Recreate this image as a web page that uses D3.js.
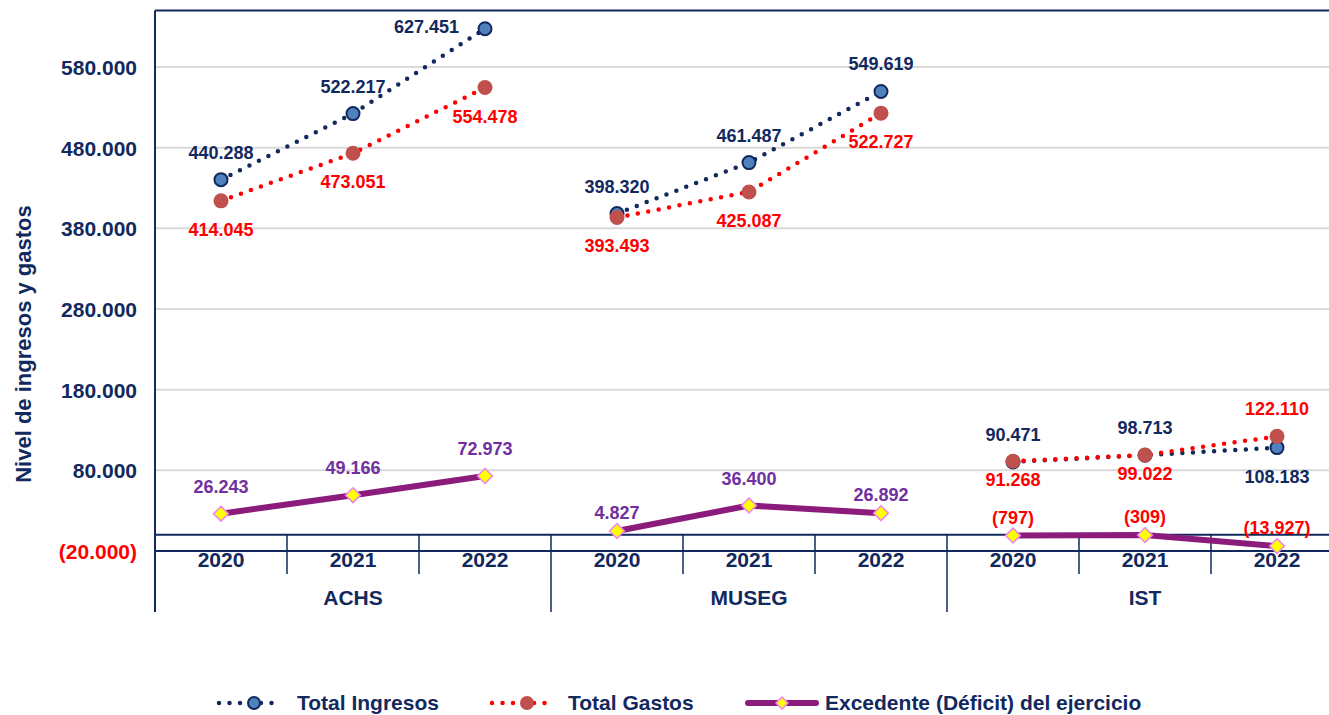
<!doctype html>
<html lang="es">
<head>
<meta charset="utf-8">
<title>Ingresos y gastos</title>
<script src="https://d3js.org/d3.v7.min.js"></script>
<style>
  body { margin: 0; background: #fff; }
  svg { display: block; font-family: "Liberation Sans", Arial, sans-serif; font-weight: bold; }
</style>
</head>
<body>
<svg id="chart" width="1329" height="715"></svg>
<script>
// data
const groups = ["ACHS", "MUSEG", "IST"];
const years = ["2020", "2021", "2022"];
const totalIngresos = [[440288, 522217, 627451], [398320, 461487, 549619], [90471, 98713, 108183]];
const totalGastos = [[414045, 473051, 554478], [393493, 425087, 522727], [91268, 99022, 122110]];
const excedente = [[26243, 49166, 72973], [4827, 36400, 26892], [-797, -309, -13927]];
const yTicks = [-20000, 80000, 180000, 280000, 380000, 480000, 580000];
// where each data label sits (t = above, tn = just above, b = below, bn = just below, l = left)
const ingresosSide = [["t", "t", "l"], ["t", "t", "t"], ["t", "t", "b"]];
const gastosSide = [["b", "b", "b"], ["b", "b", "b"], ["bn", "bn", "t"]];
const excedenteSide = [["t", "t", "t"], ["tn", "t", "tn"], ["tn", "tn", "tn"]];

const navy = "#12295e", red = "#ff0000", purple = "#8b1c7c", labPurple = "#7030a0";
const plotLeft = 155, plotRight = 1343, plotTop = 10.5, plotBottom = 551;

const svg = d3.select("#chart");
const loc = d3.formatLocale({decimal: ",", thousands: ".", grouping: [3], currency: ["", ""]});
const f0 = loc.format(",.0f");
function fmt(v) { return v < 0 ? "(" + f0(-v) + ")" : f0(v); }

const xGroup = d3.scaleBand().domain(groups).range([plotLeft, plotRight]);
const xYear = d3.scaleBand().domain(years).range([0, xGroup.bandwidth()]);
const y = d3.scaleLinear().domain([-20000, 650000]).range([plotBottom, plotTop]);
function px(gi, yi) { return xGroup(groups[gi]) + xYear(years[yi]) + xYear.bandwidth() / 2; }

// gridlines
svg.append("g").selectAll("line").data(yTicks.filter(t => t > -20000)).join("line")
  .attr("x1", plotLeft).attr("x2", plotRight).attr("y1", d => y(d)).attr("y2", d => y(d))
  .attr("stroke", "#d9d9d9").attr("stroke-width", 2);

// y axis labels
const yAxis = d3.axisLeft(y).tickValues(yTicks).tickFormat(fmt).tickSize(0).tickPadding(18);
const ya = svg.append("g").attr("transform", "translate(" + plotLeft + ",0)").call(yAxis);
ya.select(".domain").remove();
ya.selectAll("text").attr("font-size", 21).attr("font-family", null)
  .attr("fill", d => d < 0 ? red : navy).attr("dy", "0.36em");

svg.append("text").attr("transform", "translate(31,344) rotate(-90)")
  .attr("text-anchor", "middle").attr("font-size", 22).attr("fill", navy)
  .text("Nivel de ingresos y gastos");

// plot frame and category axis
svg.append("line").attr("x1", plotLeft).attr("x2", plotRight).attr("y1", plotTop).attr("y2", plotTop).attr("stroke", navy).attr("stroke-width", 2);
svg.append("line").attr("x1", plotLeft).attr("x2", plotRight).attr("y1", plotBottom).attr("y2", plotBottom).attr("stroke", navy).attr("stroke-width", 2);
svg.append("line").attr("x1", plotLeft).attr("x2", plotRight).attr("y1", y(0)).attr("y2", y(0)).attr("stroke", navy).attr("stroke-width", 2);
svg.append("line").attr("x1", plotLeft).attr("x2", plotLeft).attr("y1", plotTop).attr("y2", 612).attr("stroke", navy).attr("stroke-width", 2);

const cats = [];
groups.forEach((g, gi) => years.forEach((yr, yi) => cats.push({g: g, gi: gi, yr: yr, yi: yi})));
svg.append("g").selectAll("line").data(cats.filter(c => !(c.gi === 0 && c.yi === 0))).join("line")
  .attr("x1", c => xGroup(c.g) + xYear(c.yr)).attr("x2", c => xGroup(c.g) + xYear(c.yr))
  .attr("y1", y(0)).attr("y2", c => c.yi === 0 ? 612 : 574)
  .attr("stroke", navy).attr("stroke-width", 1.5);
svg.append("g").selectAll("text").data(cats).join("text")
  .attr("x", c => px(c.gi, c.yi)).attr("y", 567).attr("text-anchor", "middle")
  .attr("font-size", 21).attr("fill", navy).text(c => c.yr);
svg.append("g").selectAll("text").data(groups).join("text")
  .attr("x", g => xGroup(g) + xGroup.bandwidth() / 2).attr("y", 605).attr("text-anchor", "middle")
  .attr("font-size", 21).attr("fill", navy).text(g => g);

// series
function pts(vals, side) {
  const out = [];
  vals.forEach((row, gi) => row.forEach((v, yi) => out.push({gi: gi, yi: yi, v: v, x: px(gi, yi), y: y(v), side: side[gi][yi]})));
  return out;
}
const line = d3.line().x(d => d.x).y(d => d.y);

function drawSeries(vals, side, opt) {
  const data = pts(vals, side);
  const g = svg.append("g");
  g.selectAll("path").data(groups.map((gn, gi) => data.filter(d => d.gi === gi))).join("path")
    .attr("d", line).attr("fill", "none").attr("stroke", opt.lineColor)
    .attr("stroke-width", opt.lineWidth).attr("stroke-linecap", "round")
    .attr("stroke-dasharray", opt.dash);
  if (opt.diamond) {
    g.selectAll(".mk").data(data).join("path").attr("class", "mk")
      .attr("d", d3.symbol(d3.symbolDiamond2, 140))
      .attr("transform", d => "translate(" + d.x + "," + d.y + ")")
      .attr("fill", "#ffff00").attr("stroke", "#ee82ee").attr("stroke-width", 1.5);
  } else {
    g.selectAll("circle").data(data).join("circle")
      .attr("cx", d => d.x).attr("cy", d => d.y).attr("r", opt.r)
      .attr("fill", opt.fill).attr("stroke", opt.stroke).attr("stroke-width", opt.strokeWidth);
  }
  return data;
}

function drawLabels(data, color) {
  svg.append("g").selectAll("text").data(data).join("text")
    .attr("x", d => d.side === "l" ? d.x - 26 : d.x)
    .attr("y", d => ({t: d.y - 21, tn: d.y - 12, b: d.y + 35, bn: d.y + 25, l: d.y + 4})[d.side])
    .attr("text-anchor", d => d.side === "l" ? "end" : "middle")
    .attr("font-size", 18).attr("fill", typeof color === "function" ? color : () => color)
    .text(d => fmt(d.v));
}

const dIng = drawSeries(totalIngresos, ingresosSide, {lineColor: navy, lineWidth: 4.5, dash: "0 10.6", r: 6.5, fill: "#4f81bd", stroke: navy, strokeWidth: 2});
const dGas = drawSeries(totalGastos, gastosSide, {lineColor: red, lineWidth: 4.5, dash: "0 10.6", r: 7.5, fill: "#c0504d", stroke: "none", strokeWidth: 0});
const dExc = drawSeries(excedente, excedenteSide, {lineColor: purple, lineWidth: 6, dash: null, diamond: true});

drawLabels(dIng, navy);
drawLabels(dGas, red);
drawLabels(dExc, d => d.v < 0 ? red : labPurple);

// legend
const lg = svg.append("g");
const ly = 703;
lg.append("line").attr("x1", 219).attr("x2", 282).attr("y1", ly).attr("y2", ly)
  .attr("stroke", navy).attr("stroke-width", 4.5).attr("stroke-linecap", "round").attr("stroke-dasharray", "0 10.5");
lg.append("circle").attr("cx", 254).attr("cy", ly).attr("r", 6).attr("fill", "#4f81bd").attr("stroke", navy).attr("stroke-width", 2);
lg.append("text").attr("x", 297).attr("y", ly + 7).attr("font-size", 21).attr("fill", navy).text("Total Ingresos");

lg.append("line").attr("x1", 492).attr("x2", 555).attr("y1", ly).attr("y2", ly)
  .attr("stroke", red).attr("stroke-width", 4.5).attr("stroke-linecap", "round").attr("stroke-dasharray", "0 10.5");
lg.append("circle").attr("cx", 527).attr("cy", ly).attr("r", 7).attr("fill", "#c0504d");
lg.append("text").attr("x", 568).attr("y", ly + 7).attr("font-size", 21).attr("fill", navy).text("Total Gastos");

lg.append("line").attr("x1", 748).attr("x2", 816).attr("y1", ly).attr("y2", ly)
  .attr("stroke", purple).attr("stroke-width", 6).attr("stroke-linecap", "round");
lg.append("path").attr("d", d3.symbol(d3.symbolDiamond2, 90))
  .attr("transform", "translate(782," + ly + ")").attr("fill", "#ffff00").attr("stroke", "#ee82ee").attr("stroke-width", 1.5);
lg.append("text").attr("x", 825).attr("y", ly + 7).attr("font-size", 21).attr("fill", navy).text("Excedente (Déficit) del ejercicio");
</script>
</body>
</html>
